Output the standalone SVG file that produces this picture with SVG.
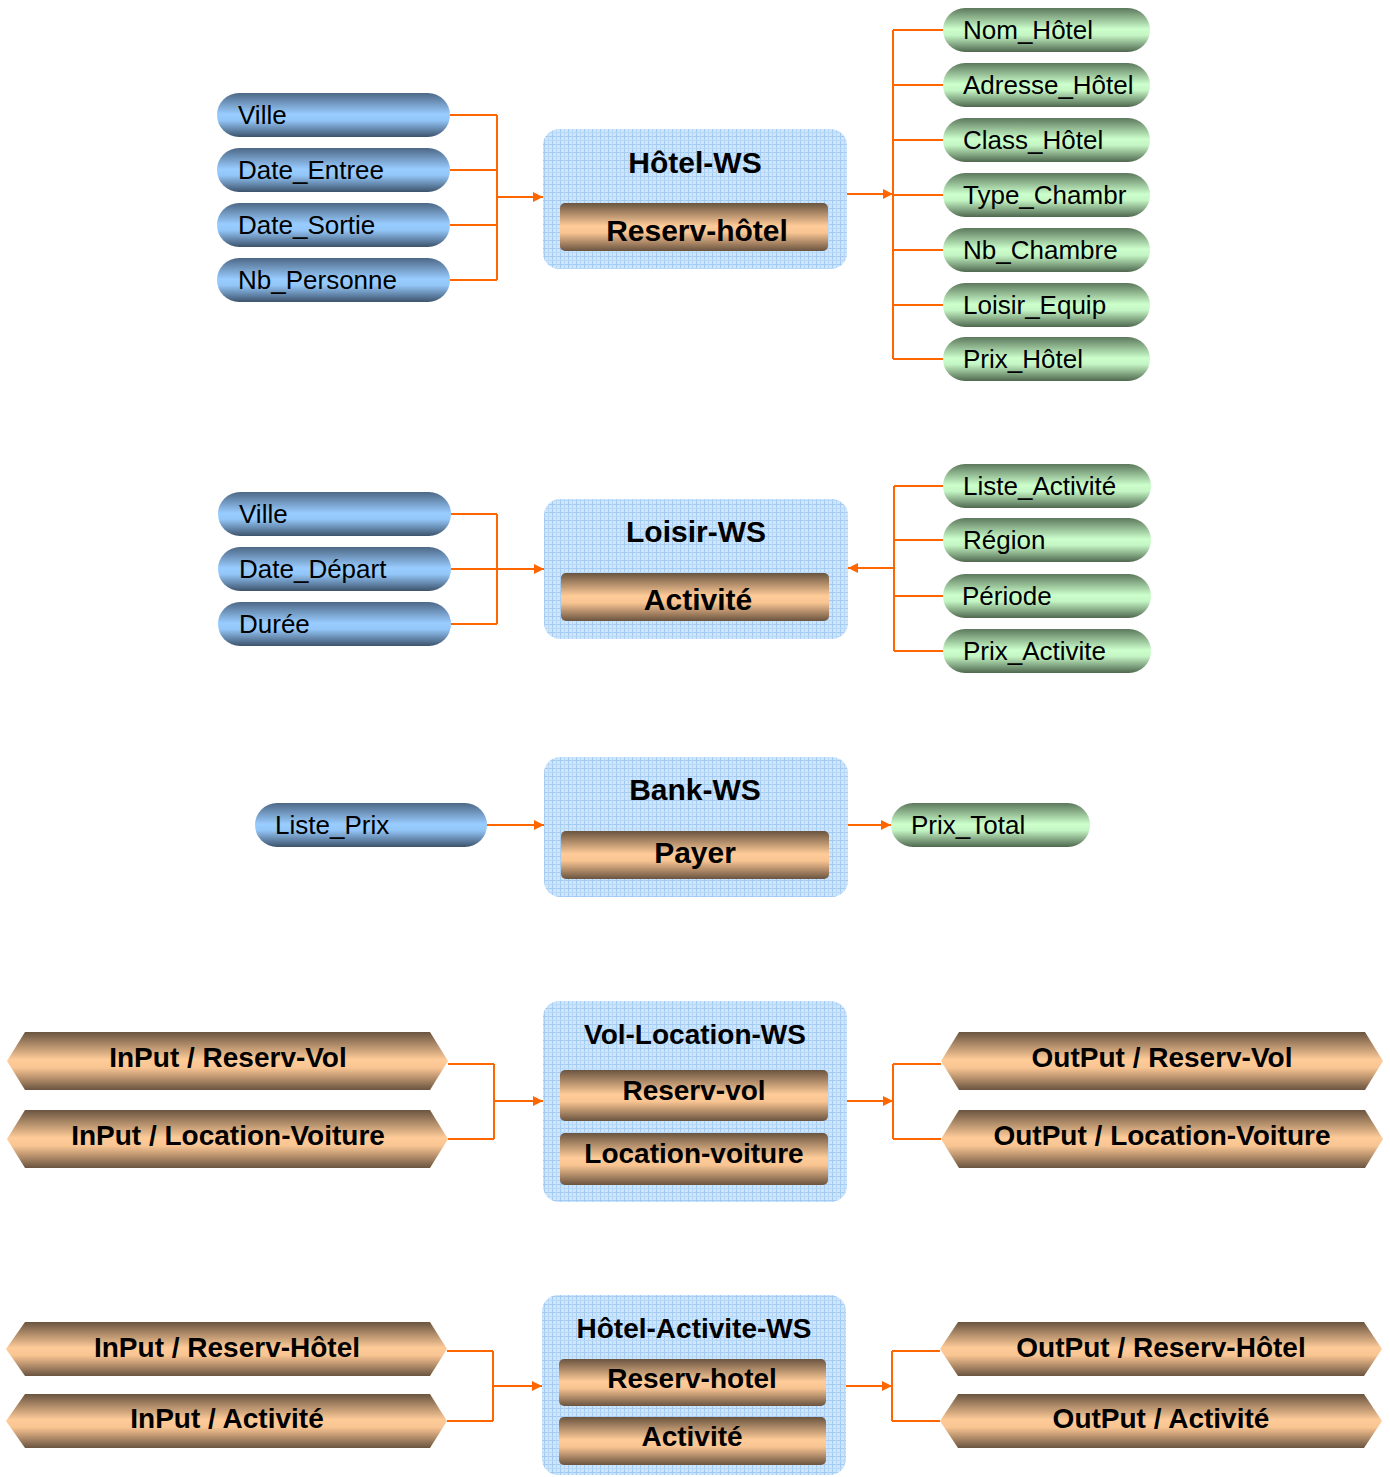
<svg xmlns="http://www.w3.org/2000/svg" width="1390" height="1477" viewBox="0 0 1390 1477">
  <defs>
    <linearGradient id="gBlue" x1="0" y1="0" x2="0" y2="1">
      <stop offset="0" stop-color="#4d6886"/>
      <stop offset="0.48" stop-color="#99ccff"/>
      <stop offset="0.62" stop-color="#93c6f8"/>
      <stop offset="1" stop-color="#3d536c"/>
    </linearGradient>
    <linearGradient id="gGreen" x1="0" y1="0" x2="0" y2="1">
      <stop offset="0" stop-color="#5c785c"/>
      <stop offset="0.48" stop-color="#ccffcc"/>
      <stop offset="0.62" stop-color="#c4f5c4"/>
      <stop offset="1" stop-color="#4f684f"/>
    </linearGradient>
    <linearGradient id="gBrown" x1="0" y1="0" x2="0" y2="1">
      <stop offset="0" stop-color="#6a5440"/>
      <stop offset="0.48" stop-color="#ffcc99"/>
      <stop offset="0.62" stop-color="#f8c492"/>
      <stop offset="1" stop-color="#6a5440"/>
    </linearGradient>
    <pattern id="grid" width="8" height="8" patternUnits="userSpaceOnUse">
      <rect width="8" height="8" fill="#cde5fd"/>
      <path d="M0 0.5H8M0.5 0V8" stroke="#a3caf1" stroke-width="1"/>
      <path d="M0 4.5H8M4.5 0V8" stroke="#b8d8f7" stroke-width="1"/>
    </pattern>
    <marker id="arrow" viewBox="0 0 10 10" refX="10" refY="5" markerWidth="11" markerHeight="10" markerUnits="userSpaceOnUse" orient="auto">
      <path d="M0 0L10 5L0 10Z" fill="#ff6600"/>
    </marker>
    <style>
      .ws { fill: url(#grid); }
      .pillB { fill: url(#gBlue); }
      .pillG { fill: url(#gGreen); }
      .hex { fill: url(#gBrown); }
      .op { fill: url(#gBrown); }
      .lbl { font-family: "Liberation Sans", Arial, sans-serif; font-size: 26px; fill: #000; }
      .ttl { font-family: "Liberation Sans", Arial, sans-serif; font-size: 30px; font-weight: bold; fill: #000; text-anchor: middle; }
      .ttl28 { font-family: "Liberation Sans", Arial, sans-serif; font-size: 28px; font-weight: bold; fill: #000; text-anchor: middle; }
      .conn path { fill: none; stroke: #ff6600; stroke-width: 2; }
    </style>
  </defs>
  <rect width="1390" height="1477" fill="#ffffff"/>

  <!-- ============ connectors ============ -->
  <g id="connectors" class="conn">
    <!-- Hôtel-WS inputs -->
    <path d="M450 115H497M450 170H497M450 225H497M450 280H497M497 115V280"/>
    <path d="M497 197H543" marker-end="url(#arrow)"/>
    <!-- Hôtel-WS outputs -->
    <path d="M847 194H893" marker-end="url(#arrow)"/>
    <path d="M893 30V359M893 30H943M893 85H943M893 140H943M893 195H943M893 250H943M893 305H943M893 359H943"/>
    <!-- Loisir-WS inputs -->
    <path d="M451 514H497M451 624H497M497 514V624M451 569H497"/>
    <path d="M497 569H544" marker-end="url(#arrow)"/>
    <!-- Loisir-WS parameters -->
    <path d="M894 486V651M894 486H943M894 540H943M894 596H943M894 651H943"/>
    <path d="M894 568H848" marker-end="url(#arrow)"/>
    <!-- Bank-WS -->
    <path d="M487 825H544" marker-end="url(#arrow)"/>
    <path d="M848 825H891" marker-end="url(#arrow)"/>
    <!-- Vol-Location-WS -->
    <path d="M448 1064H494M448 1139H494M494 1064V1139"/>
    <path d="M494 1101H543" marker-end="url(#arrow)"/>
    <path d="M847 1101H893" marker-end="url(#arrow)"/>
    <path d="M893 1064V1139M893 1064H941M893 1139H941"/>
    <!-- Hôtel-Activite-WS -->
    <path d="M447 1351H493M447 1421H493M493 1351V1421"/>
    <path d="M493 1386H542" marker-end="url(#arrow)"/>
    <path d="M846 1386H892" marker-end="url(#arrow)"/>
    <path d="M892 1351V1421M892 1351H940M892 1421H940"/>
  </g>

  <!-- ============ Hôtel-WS ============ -->
  <g id="in-ville-1"><rect class="pillB" x="217" y="93" width="233" height="44" rx="22"/><text class="lbl" x="238" y="124">Ville</text></g>
  <g id="in-date-entree"><rect class="pillB" x="217" y="148" width="233" height="44" rx="22"/><text class="lbl" x="238" y="179">Date_Entree</text></g>
  <g id="in-date-sortie"><rect class="pillB" x="217" y="203" width="233" height="44" rx="22"/><text class="lbl" x="238" y="234">Date_Sortie</text></g>
  <g id="in-nb-personne"><rect class="pillB" x="217" y="258" width="233" height="44" rx="22"/><text class="lbl" x="238" y="289">Nb_Personne</text></g>

  <g id="hotel-ws">
    <rect class="ws" x="543" y="129" width="304" height="140" rx="16"/>
    <text class="ttl" x="695" y="173">Hôtel-WS</text>
    <rect class="op" x="560" y="203" width="268" height="48" rx="5"/>
    <text class="ttl" x="697" y="241">Reserv-hôtel</text>
  </g>

  <g id="out-nom-hotel"><rect class="pillG" x="943" y="8" width="207" height="44" rx="22"/><text class="lbl" x="963" y="39">Nom_Hôtel</text></g>
  <g id="out-adresse-hotel"><rect class="pillG" x="943" y="63" width="207" height="44" rx="22"/><text class="lbl" x="963" y="94">Adresse_Hôtel</text></g>
  <g id="out-class-hotel"><rect class="pillG" x="943" y="118" width="207" height="44" rx="22"/><text class="lbl" x="963" y="149">Class_Hôtel</text></g>
  <g id="out-type-chambr"><rect class="pillG" x="943" y="173" width="207" height="44" rx="22"/><text class="lbl" x="963" y="204">Type_Chambr</text></g>
  <g id="out-nb-chambre"><rect class="pillG" x="943" y="228" width="207" height="44" rx="22"/><text class="lbl" x="963" y="259">Nb_Chambre</text></g>
  <g id="out-loisir-equip"><rect class="pillG" x="943" y="283" width="207" height="44" rx="22"/><text class="lbl" x="963" y="314">Loisir_Equip</text></g>
  <g id="out-prix-hotel"><rect class="pillG" x="943" y="337" width="207" height="44" rx="22"/><text class="lbl" x="963" y="368">Prix_Hôtel</text></g>

  <!-- ============ Loisir-WS ============ -->
  <g id="in-ville-2"><rect class="pillB" x="218" y="492" width="233" height="44" rx="22"/><text class="lbl" x="239" y="523">Ville</text></g>
  <g id="in-date-depart"><rect class="pillB" x="218" y="547" width="233" height="44" rx="22"/><text class="lbl" x="239" y="578">Date_Départ</text></g>
  <g id="in-duree"><rect class="pillB" x="218" y="602" width="233" height="44" rx="22"/><text class="lbl" x="239" y="633">Durée</text></g>

  <g id="loisir-ws">
    <rect class="ws" x="544" y="499" width="304" height="140" rx="16"/>
    <text class="ttl" x="696" y="542">Loisir-WS</text>
    <rect class="op" x="561" y="573" width="268" height="48" rx="5"/>
    <text class="ttl" x="698" y="610">Activité</text>
  </g>

  <g id="p-liste-activite"><rect class="pillG" x="943" y="464" width="208" height="44" rx="22"/><text class="lbl" x="963" y="495">Liste_Activité</text></g>
  <g id="p-region"><rect class="pillG" x="943" y="518" width="208" height="44" rx="22"/><text class="lbl" x="963" y="549">Région</text></g>
  <g id="p-periode"><rect class="pillG" x="943" y="574" width="208" height="44" rx="22"/><text class="lbl" x="962" y="605">Période</text></g>
  <g id="p-prix-activite"><rect class="pillG" x="943" y="629" width="208" height="44" rx="22"/><text class="lbl" x="963" y="660">Prix_Activite</text></g>

  <!-- ============ Bank-WS ============ -->
  <g id="in-liste-prix"><rect class="pillB" x="255" y="803" width="232" height="44" rx="22"/><text class="lbl" x="275" y="834">Liste_Prix</text></g>

  <g id="bank-ws">
    <rect class="ws" x="544" y="757" width="304" height="140" rx="16"/>
    <text class="ttl" x="695" y="800">Bank-WS</text>
    <rect class="op" x="561" y="831" width="268" height="48" rx="5"/>
    <text class="ttl" x="695" y="863">Payer</text>
  </g>

  <g id="out-prix-total"><rect class="pillG" x="891" y="803" width="199" height="44" rx="22"/><text class="lbl" x="911" y="834">Prix_Total</text></g>

  <!-- ============ Vol-Location-WS ============ -->
  <g id="in-reserv-vol"><path class="hex" d="M7 1061L25 1032H430L448 1061L430 1090H25Z"/><text class="ttl28" x="228" y="1067">InPut / Reserv-Vol</text></g>
  <g id="in-location-voiture"><path class="hex" d="M7 1139L25 1110H430L448 1139L430 1168H25Z"/><text class="ttl28" x="228" y="1145">InPut / Location-Voiture</text></g>

  <g id="vol-location-ws">
    <rect class="ws" x="543" y="1001" width="304" height="201" rx="16"/>
    <text class="ttl28" x="695" y="1044">Vol-Location-WS</text>
    <rect class="op" x="560" y="1070" width="268" height="51" rx="5"/>
    <text class="ttl28" x="694" y="1100">Reserv-vol</text>
    <rect class="op" x="560" y="1133" width="268" height="52" rx="5"/>
    <text class="ttl28" x="694" y="1163">Location-voiture</text>
  </g>

  <g id="out-reserv-vol"><path class="hex" d="M941 1061L959 1032H1365L1383 1061L1365 1090H959Z"/><text class="ttl28" x="1162" y="1067">OutPut / Reserv-Vol</text></g>
  <g id="out-location-voiture"><path class="hex" d="M941 1139L959 1110H1365L1383 1139L1365 1168H959Z"/><text class="ttl28" x="1162" y="1145">OutPut / Location-Voiture</text></g>

  <!-- ============ Hôtel-Activite-WS ============ -->
  <g id="in-reserv-hotel"><path class="hex" d="M6 1349L25 1322H430L447 1349L430 1376H25Z"/><text class="ttl28" x="227" y="1357">InPut / Reserv-Hôtel</text></g>
  <g id="in-activite"><path class="hex" d="M6 1421L25 1394H430L447 1421L430 1448H25Z"/><text class="ttl28" x="227" y="1428">InPut / Activité</text></g>

  <g id="hotel-activite-ws">
    <rect class="ws" x="542" y="1295" width="304" height="180" rx="16"/>
    <text class="ttl28" x="694" y="1338">Hôtel-Activite-WS</text>
    <rect class="op" x="559" y="1359" width="267" height="47" rx="5"/>
    <text class="ttl28" x="692" y="1388">Reserv-hotel</text>
    <rect class="op" x="559" y="1417" width="267" height="48" rx="5"/>
    <text class="ttl28" x="692" y="1446">Activité</text>
  </g>

  <g id="out-reserv-hotel"><path class="hex" d="M940 1349L958 1322H1364L1382 1349L1364 1376H958Z"/><text class="ttl28" x="1161" y="1357">OutPut / Reserv-Hôtel</text></g>
  <g id="out-activite"><path class="hex" d="M940 1421L958 1394H1364L1382 1421L1364 1448H958Z"/><text class="ttl28" x="1161" y="1428">OutPut / Activité</text></g>
</svg>
